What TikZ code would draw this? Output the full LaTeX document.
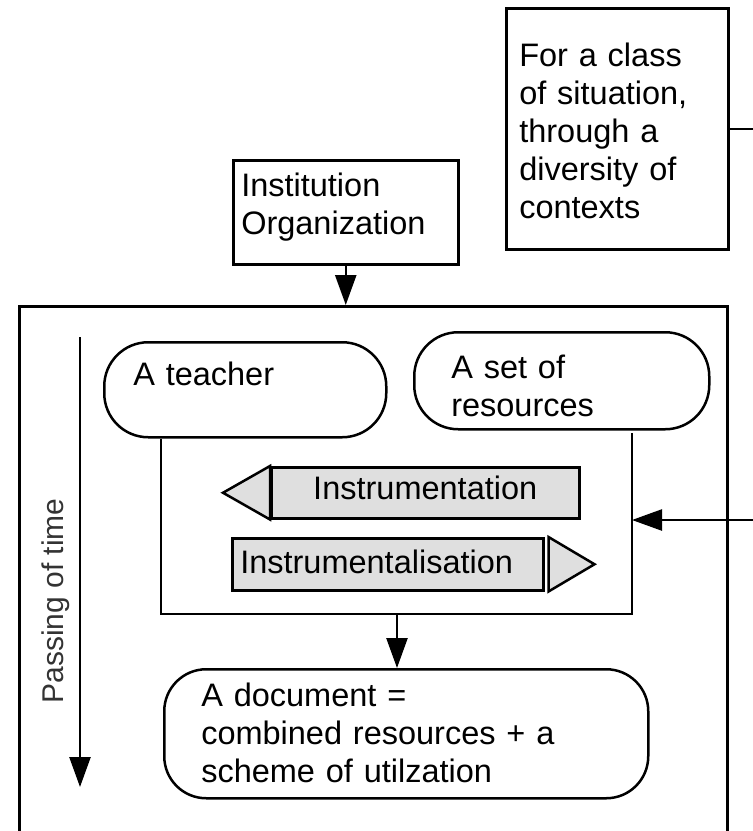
\documentclass[tikz,border=0pt]{standalone}
\usepackage{fontspec}
\setmainfont{Liberation Sans}
\usetikzlibrary{arrows.meta}

\begin{document}
\begin{tikzpicture}[x=1pt,y=-1pt,line width=2.5pt,
	every node/.style={font=\fontsize{32.5}{38}\selectfont, inner sep=0pt, anchor=north west, align=left},
	box/.style={draw, rectangle},
	pill/.style={draw, rounded corners=44pt},
	band/.style={draw, fill=gray!25},
	arr/.style={-{Triangle[length=30pt,width=21pt]}}]
			\useasboundingbox (0,0) rectangle (753,831);
			\clip (0,0) rectangle (753,831);
			% boxes
			\node[box, text width=196pt, inner xsep=13pt, text height=58pt, text depth=183pt] (situation) at (505,7) {For a class\\of situation,\\through a\\diversity of\\contexts};
			\node[box, text width=209pt, inner xsep=8pt, text height=36pt, text depth=68pt] (inst) at (232,159) {Institution\\Organization};
			\node[box, minimum width=708pt, minimum height=560pt] (frame) at (18,305) {};
			\node[pill, text width=224pt, inner xsep=29pt, text height=43pt, text depth=52pt] (teacher) at (103,341) {A teacher};
			\node[pill, text width=221pt, inner xsep=37pt, text height=46pt, text depth=51pt] (resources) at (413,331) {A set of\\resources};
			\node[pill, rounded corners=42pt, text width=410pt, inner xsep=37pt, text height=37pt, text depth=92pt] (doc) at (163,668) {A document =\\combined resources + a\\scheme of utilzation};
			% the two processes
			\node[band, text width=308pt, align=center, text height=32pt, text depth=19pt] (instr) at (270,466) {Instrumentation};
			\draw[band] (instr.north west) -- ([xshift=-47pt]instr.west) -- (instr.south west) -- cycle;
			\node[band, text width=295pt, inner xsep=8pt, text height=35pt, text depth=17pt] (ital) at (231,537) {Instrumentalisation};
			\draw[band] ([xshift=4pt]ital.north east) -- ([xshift=50pt]ital.east) -- ([xshift=4pt]ital.south east) -- cycle;
			% time
			\coordinate (tstart) at (80,337);
			\coordinate (tend) at (80,787);
			\draw[arr] (tstart) -- (tend);
			\node[rotate=90, anchor=base, text=black!80, font=\fontsize{30}{36}\selectfont] (passing) at (63,601) {Passing of time};
			% bracket and connectors
			\coordinate (brL) at (161,614);
			\coordinate (brR) at (632,614);
			\coordinate (brT) at (632,433);
			\coordinate (brM) at (397,614);
			\coordinate (brC) at (632,520);
			\draw (teacher.south -| brL) -- (brL) -- (brR) -- (brT);
			\draw[arr] (inst.south) -- (inst.south |- frame.north);
			\draw[arr] (brM) -- (brM |- doc.north);
			\draw[arr] (situation.east) -- ++(45,0) |- (brC);
\end{tikzpicture}
\end{document}
